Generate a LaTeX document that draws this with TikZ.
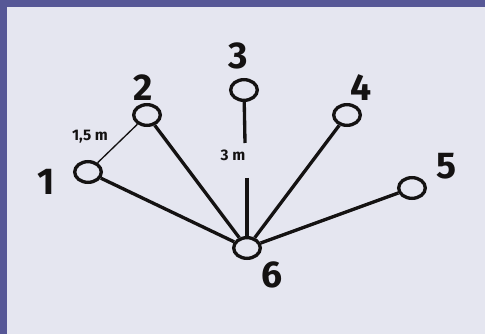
\documentclass[tikz,border=0pt]{standalone}
\usepackage{fontspec}
\setmainfont{Fira Sans}
\usetikzlibrary{shapes.geometric}
\definecolor{frame}{RGB}{86,87,150}
\definecolor{paper}{RGB}{229,230,240}
\definecolor{ink}{RGB}{20,18,18}
\begin{document}
\begin{tikzpicture}[x=0.75pt,y=-0.75pt,
  spot/.style={ellipse,draw=ink,line width=2.5pt,minimum width=20pt,minimum height=15.5pt,inner sep=0pt},
  num/.style={font=\fontsize{28}{28}\selectfont\bfseries,text=ink},
  meas/.style={font=\fontsize{11.5}{12}\selectfont\bfseries,text=ink},
  thick line/.style={draw=ink,line width=2.5pt},
  thin line/.style={draw=ink,line width=1pt}]
\fill[frame] (0,0) rectangle (485,334);
\fill[paper] (7,7) rectangle (485,334);
\useasboundingbox (0,0) rectangle (485,334);
\node[spot] (n1) at (88,172) {};
\node[spot] (n2) at (147,115) {};
\node[spot] (n3) at (244,90) {};
\node[spot] (n4) at (347,115) {};
\node[spot] (n5) at (412,188) {};
\node[spot] (n6) at (247,248) {};
\node[num] (l1) at (46,182) {1};
\node[num] (l2) at (143,88) {2};
\node[num] (l3) at (238,56) {3};
\node[num] (l4) at (361,88) {4};
\node[num] (l5) at (446,166) {5};
\node[num] (l6) at (272,275) {6};
\node[meas] (m12) at (90,137) {1,5 m};
\node[meas] (m36) at (233,155) {3 m};
\coordinate (g1) at (245,143);
\coordinate (g2) at (247,178);
\draw[thin line] (n1) -- (n2);
\draw[thick line] (n1) -- (n6);
\draw[thick line] (n2) -- (n6);
\draw[thick line] (n3) -- (g1);
\draw[thick line] (g2) -- (n6);
\draw[thick line] (n4) -- (n6);
\draw[thick line] (n5) -- (n6);
\end{tikzpicture}
\end{document}
